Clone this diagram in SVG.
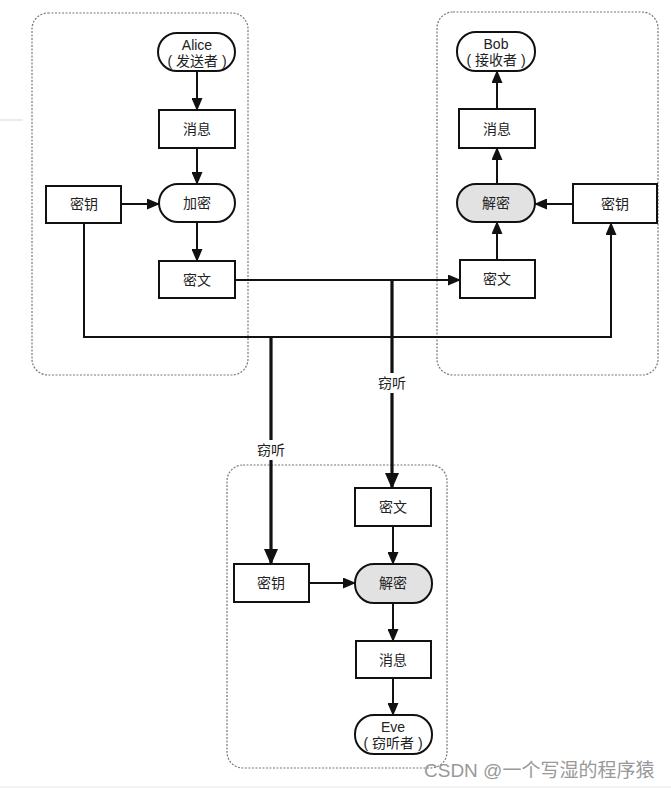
<svg xmlns="http://www.w3.org/2000/svg" width="671" height="789" viewBox="0 0 671 789">
<style>
  .grp{fill:none;stroke:#777;stroke-width:1.2;stroke-dasharray:2,1.5}
  .box{fill:#fff;stroke:#111;stroke-width:2}
  .gray{fill:#e2e2e2;stroke:#111;stroke-width:2}
  .t{font-family:"Liberation Sans","Noto Sans CJK SC",sans-serif;font-size:14px;fill:#222;text-anchor:middle;dominant-baseline:central}
  .c{fill:none;stroke:#111;stroke-width:2}
  .thick{fill:none;stroke:#111;stroke-width:3.2}
  .wm{font-family:"Liberation Sans","Noto Sans CJK SC",sans-serif;font-size:19px;fill:#999}
</style>
<defs>
  <marker id="a" markerUnits="userSpaceOnUse" markerWidth="13" markerHeight="11" refX="12" refY="5.5" orient="auto">
    <path d="M0,0 L13,5.5 L0,11 z" fill="#111"/>
  </marker>
  <marker id="b" markerUnits="userSpaceOnUse" markerWidth="16" markerHeight="14" refX="15" refY="7" orient="auto">
    <path d="M0,0 L16,7 L0,14 z" fill="#111"/>
  </marker>
</defs>
<rect width="671" height="789" fill="#fff"/>
<line x1="0" y1="120" x2="23" y2="120" stroke="#e4e4e4" stroke-width="1.5"/>
<line x1="0" y1="787" x2="671" y2="787" stroke="#eee" stroke-width="1.5"/>

<rect class="grp" x="32" y="13" width="216" height="362" rx="16"/>
<rect class="grp" x="437" y="12" width="221" height="363" rx="16"/>
<rect class="grp" x="227" y="465" width="220" height="303" rx="16"/>

<g id="connectors">
  <line class="c" x1="197" y1="71" x2="197" y2="110" marker-end="url(#a)"/>
  <line class="c" x1="197" y1="148" x2="197" y2="184" marker-end="url(#a)"/>
  <line class="c" x1="121" y1="204" x2="159" y2="204" marker-end="url(#a)"/>
  <line class="c" x1="197" y1="222" x2="197" y2="261" marker-end="url(#a)"/>
  <line class="c" x1="235" y1="280" x2="460" y2="280" marker-end="url(#a)"/>
  <path class="c" d="M84,223 V337 H611 V223" marker-end="url(#a)"/>
  <line class="c" x1="497" y1="260" x2="497" y2="222" marker-end="url(#a)"/>
  <line class="c" x1="497" y1="184" x2="497" y2="148" marker-end="url(#a)"/>
  <line class="c" x1="497" y1="109" x2="497" y2="71" marker-end="url(#a)"/>
  <line class="c" x1="573" y1="204" x2="535" y2="204" marker-end="url(#a)"/>
  <line class="thick" x1="392" y1="280" x2="392" y2="488" marker-end="url(#b)"/>
  <line class="thick" x1="271" y1="337" x2="271" y2="564" marker-end="url(#b)"/>
  <rect x="374" y="373" width="36" height="20" fill="#fff"/>
  <text class="t" x="392" y="383">窃听</text>
  <rect x="253" y="440" width="36" height="20" fill="#fff"/>
  <text class="t" x="271" y="450">窃听</text>
  <line class="c" x1="393" y1="526" x2="393" y2="564" marker-end="url(#a)"/>
  <line class="c" x1="309" y1="583" x2="355" y2="583" marker-end="url(#a)"/>
  <line class="c" x1="393" y1="603" x2="393" y2="641" marker-end="url(#a)"/>
  <line class="c" x1="393" y1="678" x2="393" y2="715" marker-end="url(#a)"/>
</g>

<g id="alice"><rect class="box" x="158" y="33" width="77" height="38" rx="19"/><text class="t" x="197" y="45">Alice</text><text class="t" x="197" y="61">( 发送者 )</text></g>
<g id="a_msg"><rect class="box" x="159" y="110" width="76" height="38"/><text class="t" x="197" y="129">消息</text></g>
<g id="a_enc"><rect class="box" x="159" y="184" width="76" height="38" rx="19"/><text class="t" x="197" y="203">加密</text></g>
<g id="a_key"><rect class="box" x="46" y="186" width="75" height="37"/><text class="t" x="84" y="204">密钥</text></g>
<g id="a_ct"><rect class="box" x="159" y="261" width="76" height="37"/><text class="t" x="197" y="280">密文</text></g>

<g id="bob"><rect class="box" x="457" y="32" width="78" height="39" rx="19"/><text class="t" x="496" y="44">Bob</text><text class="t" x="496" y="60">( 接收者 )</text></g>
<g id="b_msg"><rect class="box" x="459" y="109" width="76" height="39"/><text class="t" x="497" y="129">消息</text></g>
<g id="b_dec"><rect class="gray" x="457" y="184" width="78" height="38" rx="19"/><text class="t" x="496" y="203">解密</text></g>
<g id="b_key"><rect class="box" x="573" y="184" width="84" height="39"/><text class="t" x="615" y="204">密钥</text></g>
<g id="b_ct"><rect class="box" x="460" y="260" width="75" height="38"/><text class="t" x="497" y="279">密文</text></g>

<g id="e_ct"><rect class="box" x="355" y="488" width="76" height="38"/><text class="t" x="393" y="507">密文</text></g>
<g id="e_key"><rect class="box" x="234" y="564" width="75" height="38"/><text class="t" x="271" y="583">密钥</text></g>
<g id="e_dec"><rect class="gray" x="355" y="564" width="77" height="39" rx="19"/><text class="t" x="393" y="583">解密</text></g>
<g id="e_msg"><rect class="box" x="356" y="641" width="75" height="37"/><text class="t" x="393" y="660">消息</text></g>
<g id="eve"><rect class="box" x="355" y="715" width="77" height="39" rx="19"/><text class="t" x="393" y="727">Eve</text><text class="t" x="393" y="743">( 窃听者 )</text></g>

<text class="wm" x="424" y="777">CSDN @一个写湿的程序猿</text>
</svg>
